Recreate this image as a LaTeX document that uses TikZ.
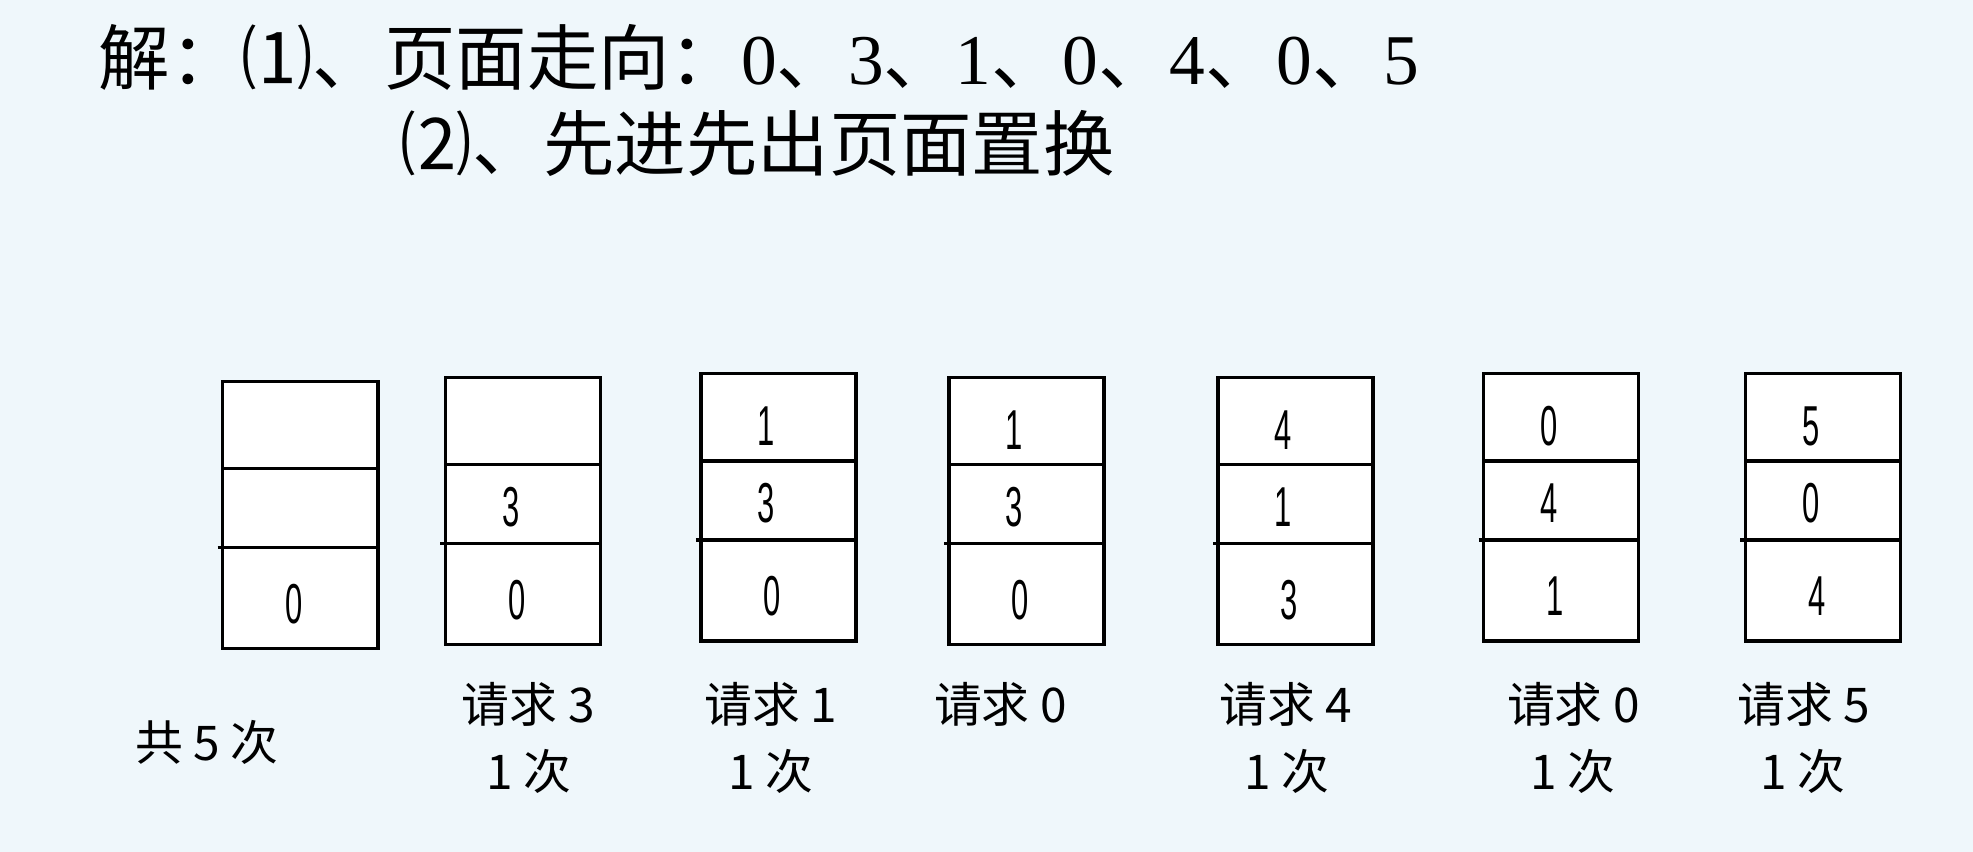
\documentclass[tikz,border=0pt]{standalone}
\usepackage{fontspec}
\usepackage{graphicx}
\setmainfont{Liberation Sans}
\newfontfamily\cjk{Noto Sans CJK SC}
\newfontfamily\serifdig{Liberation Serif}
\definecolor{bgc}{RGB}{239,247,251}
\newcommand\pagecol[5]{%
  \node[cell, minimum height=0.87cm] (#1a) at #2 {};
  \node[cell, minimum height=0.79cm, anchor=north] (#1b) at (#1a.south) {};
  \node[cell, minimum height=1.01cm, anchor=north] (#1c) at (#1b.south) {};
  \node[dig] (#1da) at ([xshift=-0.12cm,yshift=-0.09cm]#1a.center) {#3};
  \node[dig] (#1db) at ([xshift=-0.12cm,yshift=-0.03cm]#1b.center) {#4};
  \node[dig] (#1dc) at ([xshift=-0.06cm,yshift=-0.06cm]#1c.center) {#5};
  \coordinate (#1t) at ([xshift=-0.05cm]#1c.north west);
  \draw[frame] (#1t) -- (#1c.north west);
}
\begin{document}
\begin{tikzpicture}[x=0.01cm,y=-0.01cm,
  frame/.style={line width=1pt, draw=black},
  cell/.style={frame, fill=white, minimum width=1.55cm, inner sep=0pt, outer sep=0pt, anchor=north west},
  dig/.style={inner sep=0pt, font=\fontsize{16pt}{16pt}\selectfont},
  lab/.style={inner sep=0pt, font=\cjk\fontsize{13.6pt}{16pt}\selectfont},
  ttl/.style={inner sep=0pt, anchor=base west, font=\cjk\fontsize{20.3pt}{24pt}\selectfont}]
\fill[bgc] (0,0) rectangle (1973,852);
\useasboundingbox (0,0) rectangle (1973,852);
% title
\node[ttl] (t1) at (98,85) {解：⑴、页面走向：{\serifdig 0}、{\serifdig 3}、{\serifdig 1}、{\serifdig 0}、{\serifdig 4}、{\serifdig 0}、{\serifdig 5}};
\node[ttl] (t2) at (400,171) {⑵、先进先出页面置换};
% columns
\pagecol{p1}{(222.7,381.3)}{}{}{\scalebox{0.55}[1]{0}}
\pagecol{p2}{(445.4,377.5)}{}{\scalebox{0.55}[1]{3}}{\scalebox{0.55}[1]{0}}
\pagecol{p3}{(700.9,373.7)}{\scalebox{0.55}[1]{1}}{\scalebox{0.55}[1]{3}}{\scalebox{0.55}[1]{0}}
\pagecol{p4}{(948.8,377.5)}{\scalebox{0.55}[1]{1}}{\scalebox{0.55}[1]{3}}{\scalebox{0.55}[1]{0}}
\pagecol{p5}{(1218,377.5)}{\scalebox{0.55}[1]{4}}{\scalebox{0.55}[1]{1}}{\scalebox{0.55}[1]{3}}
\pagecol{p6}{(1483.5,373.7)}{\scalebox{0.55}[1]{0}}{\scalebox{0.55}[1]{4}}{\scalebox{0.55}[1]{1}}
\pagecol{p7}{(1745.3,373.7)}{\scalebox{0.55}[1]{5}}{\scalebox{0.55}[1]{0}}{\scalebox{0.55}[1]{4}}
% labels
\node[lab] (l0) at (207,742) {共 5 次};
\node[lab] (l2a) at (528.4,704.6) {请求 3};
\node[lab] (l2b) at (529,771) {1 次};
\node[lab] (l3a) at (770.8,704.6) {请求 1};
\node[lab] (l3b) at (770.7,771) {1 次};
\node[lab] (l4a) at (1000.5,704.6) {请求 0};
\node[lab] (l5a) at (1286,704.6) {请求 4};
\node[lab] (l5b) at (1286.6,771) {1 次};
\node[lab] (l6a) at (1573.5,704.6) {请求 0};
\node[lab] (l6b) at (1572.8,771) {1 次};
\node[lab] (l7a) at (1803.8,704.6) {请求 5};
\node[lab] (l7b) at (1803.2,771) {1 次};
\end{tikzpicture}
\end{document}
